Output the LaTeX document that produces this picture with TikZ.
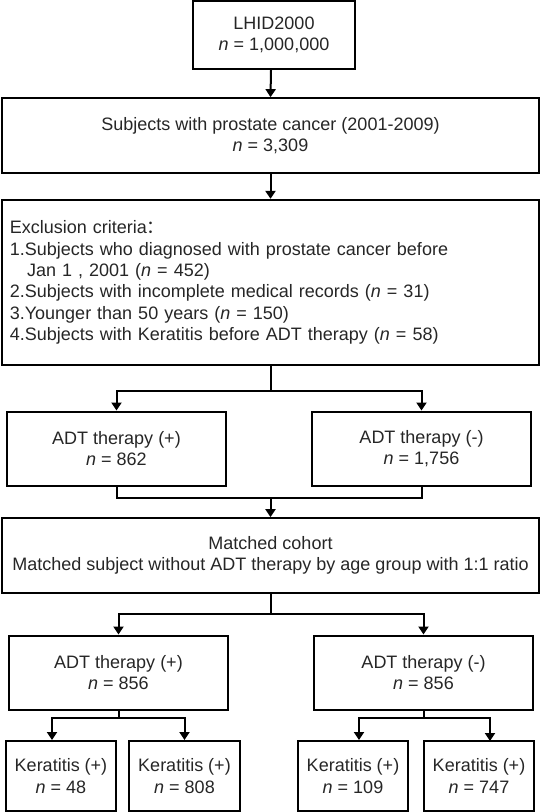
\documentclass[tikz,border=0pt]{standalone}
\usepackage{fontspec}
\setmainfont{Liberation Sans}
\newfontfamily\cjkfont{Noto Sans CJK SC}
\usepackage{tikz}
\usetikzlibrary{arrows.meta,positioning,calc}

\begin{document}
\begin{tikzpicture}[
    x=0.75pt, y=-0.75pt,
    every node/.style={font=\fontsize{13.5}{16}\selectfont, text=black!85},
    stepbox/.style={draw, line width=1.5pt, rectangle, align=center, inner sep=2pt},
    widebox/.style={stepbox, minimum width=403pt, minimum height=56pt},
    halfbox/.style={stepbox, minimum width=164pt, minimum height=55.5pt},
    smallbox/.style={stepbox, minimum width=83pt, minimum height=52.5pt},
    arr/.style={line width=1.5pt, -{Triangle[length=6pt,width=7.5pt]}},
    link/.style={line width=1.5pt}
]
    \useasboundingbox (0,0) rectangle (541,812);

    % main column
    \node[stepbox, minimum width=121.5pt, minimum height=51pt] (src) at (274,35) {LHID2000\\\textit{n} = 1,000,000};
    \node[widebox] (pca) at (270.5,135.5) {Subjects with prostate cancer (2001-2009)\\\textit{n} = 3,309};
    \node[stepbox, minimum width=403pt, minimum height=124pt, text width=391pt, align=left] (excl) at (270.5,282.5) {Exclusion criteria{\cjkfont ：}\\
        1.Subjects who diagnosed with prostate cancer before\\
        \hspace*{13pt}Jan 1 , 2001 (\textit{n} = 452)\\
        2.Subjects with incomplete medical records (\textit{n} = 31)\\
        3.Younger than 50 years (\textit{n} = 150)\\
        4.Subjects with Keratitis before ADT therapy (\textit{n} = 58)};

    \node[halfbox] (adtA) at (116.5,448.5) {ADT therapy (+)\\\textit{n} = 862};
    \node[halfbox] (adtB) at (421.5,448.5) {ADT therapy (-)\\\textit{n} = 1,756};

    \node[widebox] (match) at (270.5,555.5) {Matched cohort\\Matched subject without ADT therapy by age group with 1:1 ratio};

    \node[halfbox] (mA) at (118.5,672.5) {ADT therapy (+)\\\textit{n} = 856};
    \node[halfbox] (mB) at (423.5,672.5) {ADT therapy (-)\\\textit{n} = 856};

    \node[smallbox] (kA) at (61,776) {Keratitis (+)\\\textit{n} = 48};
    \node[smallbox] (kB) at (184.5,776) {Keratitis (+)\\\textit{n} = 808};
    \node[smallbox] (kC) at (353,776) {Keratitis (+)\\\textit{n} = 109};
    \node[smallbox] (kD) at (479,776) {Keratitis (+)\\\textit{n} = 747};

    % junctions
    \coordinate (j1) at (270.5,391);
    \coordinate (j2) at (270.5,498);
    \coordinate (j3) at (270.5,614);
    \coordinate (jL) at (52,718);
    \coordinate (jR) at (359,718);

    \draw[arr] (src.south -| 271,0) -- (pca.north);
    \draw[arr] (pca.south) -- (excl.north);
    \draw[link] (excl.south) -- (j1);
    \draw[arr] (j1) -| (adtA.north);
    \draw[arr] (j1) -| (adtB.north);
    \draw[link] (adtA.south) |- (j2) -| (adtB.south);
    \draw[arr] (j2) -- (match.north);
    \draw[link] (match.south) -- (j3);
    \draw[arr] (j3) -| (mA.north);
    \draw[arr] (j3) -| (mB.north);
    \draw[link] (mA.south) -- (mA.south |- jL);
    \draw[arr] (mA.south |- jL) -| (kB.north);
    \draw[arr] (mA.south |- jL) -- (jL) -- (jL |- kA.north);
    \draw[link] (mB.south) -- (mB.south |- jR);
    \draw[arr] (mB.south |- jR) -| (490,741);
    \draw[arr] (mB.south |- jR) -- (jR) -- (jR |- kC.north);
\end{tikzpicture}
\end{document}
